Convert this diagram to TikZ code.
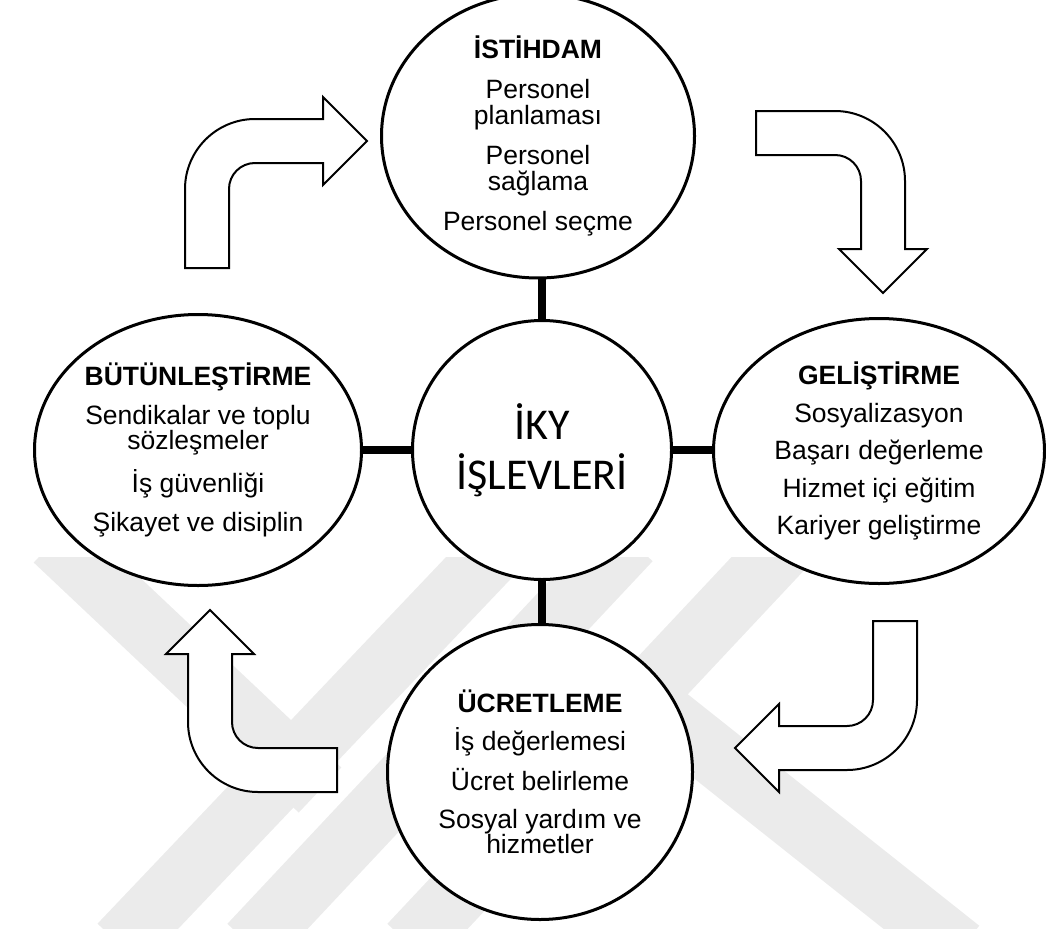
\documentclass[tikz,border=0pt]{standalone}
\usepackage{fontspec}
\setmainfont{Liberation Sans}
\newfontfamily\calibri{Carlito}
\usetikzlibrary{shapes.geometric}
\newcommand{\bentarrow}[3]{\draw[bent, shift={(#1,#2)}, rotate=#3] (-70,79) -- (-70,0) .. controls (-70,-38.6) and (-38.6,-70) .. (0,-70) -- (68,-70) -- (68,-92) -- (112,-48) -- (68,-4) -- (68,-26) -- (0,-26) .. controls (-14.4,-26) and (-26,-14.4) .. (-26,0) -- (-26,79) -- cycle;}
\tikzset{
  oval/.style={draw, line width=3pt, ellipse, inner sep=0pt, align=center, fill=white, font=\fontsize{26.5}{25.5}\selectfont},
  hub/.style={draw, line width=3pt, circle, inner sep=0pt, minimum size=259pt, align=center, fill=white, font=\calibri\fontsize{44}{50}\selectfont},
  link/.style={line width=8pt},
  bent/.style={line width=2pt, fill=white},
  band/.style={line width=62pt, black!8}
}

\begin{document}
\begin{tikzpicture}[x=1pt,y=-1pt]
    \useasboundingbox (0,0) rectangle (1046,934);
    % watermark
    \begin{scope}
        \clip (0,557) rectangle (1046,928);
        \draw[band] (55,540) -- (320,790);
        \draw[band] (505,540) -- (120,945);
        \draw[band] (630,540) -- (250,945);
        \draw[band] (790,540) -- (410,945);
        \draw[band] (620,680) -- (960,950);
    \end{scope}
    % arrows
    \bentarrow{255}{189}{0}
    \bentarrow{835}{181}{-90}
    \bentarrow{847}{700}{180}
    \bentarrow{258}{722}{90}
    % circles
    \node[hub] (hub) at (542,450) {İKY\\İŞLEVLERİ};
    \node[oval, minimum width=313pt, minimum height=259pt] (ist) at (538,136)
        {\textbf{İSTİHDAM}\\[15pt] Personel\\planlaması\\[15pt] Personel\\sağlama\\[15pt] Personel seçme};
    \node[oval, minimum width=327pt, minimum height=271pt] (but) at (198,450)
        {\textbf{BÜTÜNLEŞTİRME}\\[13pt] Sendikalar ve toplu\\sözleşmeler\\[13pt] İş güvenliği\\[13pt] Şikayet ve disiplin};
    \node[oval, minimum width=331pt, minimum height=265pt] (gel) at (879,451)
        {\textbf{GELİŞTİRME}\\[12pt] Sosyalizasyon\\[12pt] Başarı değerleme\\[12pt] Hizmet içi eğitim\\[12pt] Kariyer geliştirme};
    \node[oval, minimum width=305pt, minimum height=295pt] (ucr) at (540,772)
        {\textbf{ÜCRETLEME}\\[12pt] İş değerlemesi\\[12pt] Ücret belirleme\\[12pt] Sosyal yardım ve\\hizmetler};
    % links
    \draw[link] (hub.north) -- (hub.north |- ist.south);
    \draw[link] (hub.south) -- (hub.south |- ucr.north);
    \draw[link] (hub.west) -- (hub.west -| but.east);
    \draw[link] (hub.east) -- (hub.east -| gel.west);
\end{tikzpicture}
\end{document}
